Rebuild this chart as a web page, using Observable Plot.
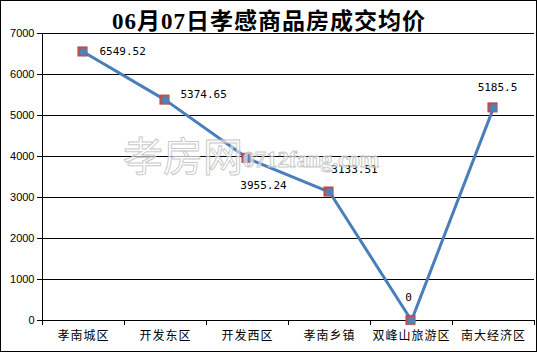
<!DOCTYPE html>
<html><head><meta charset="utf-8">
<script src="https://cdn.jsdelivr.net/npm/d3@7"></script>
<script src="https://cdn.jsdelivr.net/npm/@observablehq/plot@0.6"></script>
<style>
body{margin:0;background:#fff}
#wrap{position:relative;width:537px;height:352px;overflow:hidden;background:#fff}
#chart{position:absolute;left:0;top:0}
#frame{position:absolute;left:0;top:0;width:537px;height:352px;box-sizing:border-box;border:1px solid #000;pointer-events:none}
#title{position:absolute;left:0;top:10px;width:537px;padding-left:1px;box-sizing:border-box;text-align:center;font-weight:bold;font-size:23px;line-height:23px;font-family:"Liberation Serif","Noto Sans CJK SC",serif;letter-spacing:1px;color:#000}
.wm{position:absolute;pointer-events:none;color:rgba(255,255,255,0.6);-webkit-text-stroke:1px rgba(190,190,190,0.85);white-space:nowrap}
#wm1{left:123px;top:134px;font-size:40px;line-height:40px;font-family:"Noto Sans CJK SC",sans-serif}
#wm2{left:243px;top:148px;font-size:23px;line-height:23px;font-weight:bold;font-family:"Liberation Serif",serif}
.xl text{letter-spacing:1px}
</style>
</head><body>
<div id="wrap">
  <div id="chart"></div>
  <div class="wm" id="wm1">孝房网</div>
  <div class="wm" id="wm2">0712fang.com</div>
  <div id="title">06月07日孝感商品房成交均价</div>
  <div id="frame"></div>
</div>
<script>
const categories = ["孝南城区", "开发东区", "开发西区", "孝南乡镇", "双峰山旅游区", "南大经济区"];
const prices = [6549.52, 5374.65, 3955.24, 3133.51, 0, 5185.5];
const priceLabels = ["6549.52", "5374.65", "3955.24", "3133.51", "0", "5185.5"];
const yTicks = [0, 1000, 2000, 3000, 4000, 5000, 6000, 7000];

const data = categories.map((c, i) => ({district: c, idx: i + 0.5, price: prices[i], label: priceLabels[i]}));
const boundaries = d3.range(categories.length + 1);
const centers = categories.map((c, i) => i + 0.5);

const labelFont = {fontFamily: "DejaVu Sans Mono, monospace", fontSize: 11, fill: "#000"};
const pick = name => d => d.district === name;

const chart = Plot.plot({
  width: 537,
  height: 352,
  marginLeft: 42,
  marginRight: 3,
  marginTop: 33,
  marginBottom: 32,
  style: {background: "transparent", fontFamily: "Liberation Sans, Arial, sans-serif", fontSize: "11px", color: "#000"},
  x: {type: "linear", domain: [0, categories.length]},
  y: {domain: [0, 7000]},
  marks: [
    Plot.ruleY(yTicks, {stroke: "#000", strokeWidth: 1}),
    Plot.frame({anchor: "left", stroke: "#000"}),
    Plot.axisY(yTicks, {tickSize: 5, tickPadding: 3, label: null, fontSize: 11, tickFormat: d => String(d)}),
    Plot.axisX(boundaries, {tickSize: 5, tickFormat: () => "", label: null}),
    Plot.axisX(centers, {tickSize: 0, tickPadding: 11, label: null, fontSize: 12,
      fontFamily: "Noto Sans CJK SC, sans-serif", className: "xl",
      tickFormat: d => categories[Math.round(d - 0.5)]}),
    Plot.line(data, {x: "idx", y: "price", stroke: "#4a7ebb", strokeWidth: 3}),
    Plot.dot(data, {x: "idx", y: "price", symbol: "square", r: 5.4, fill: "#c0504d", stroke: "#b94a47", strokeWidth: 0.5, dx: -1, dy: -0.5}),
    Plot.dot(data, {x: "idx", y: "price", r: 3.8, fill: "#4f81bd", stroke: "none"}),
    Plot.text(data, {filter: pick("孝南城区"), x: "idx", y: "price", text: "label", textAnchor: "start", dx: 16, dy: -1, ...labelFont}),
    Plot.text(data, {filter: pick("开发东区"), x: "idx", y: "price", text: "label", textAnchor: "start", dx: 15, dy: -6, ...labelFont}),
    Plot.text(data, {filter: pick("开发西区"), x: "idx", y: "price", text: "label", dx: 16, dy: 27, ...labelFont}),
    Plot.text(data, {filter: pick("孝南乡镇"), x: "idx", y: "price", text: "label", dx: 25, dy: -23, ...labelFont}),
    Plot.text(data, {filter: pick("双峰山旅游区"), x: "idx", y: "price", text: "label", dx: -3, dy: -23, ...labelFont}),
    Plot.text(data, {filter: pick("南大经济区"), x: "idx", y: "price", text: "label", dx: 4, dy: -20, ...labelFont})
  ]
});
document.getElementById("chart").appendChild(chart);
</script>
</body></html>
